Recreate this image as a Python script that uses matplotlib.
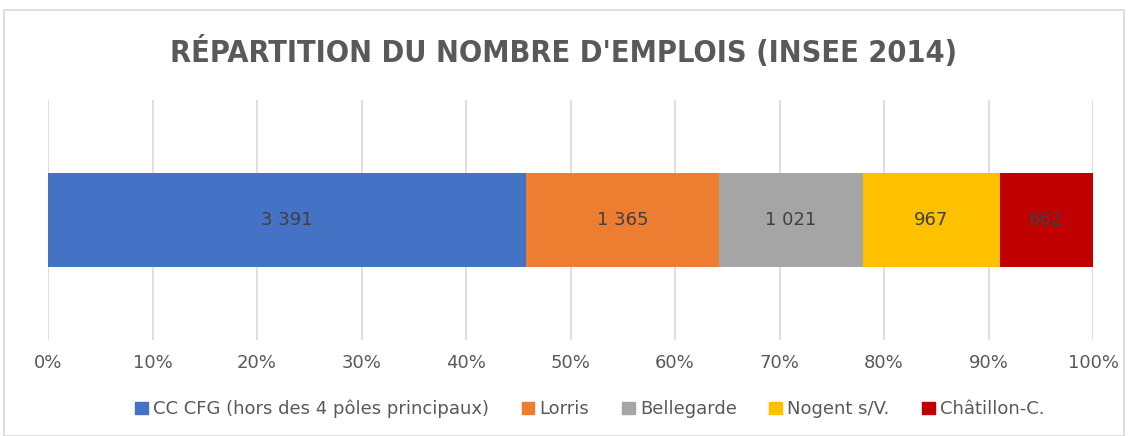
import matplotlib
matplotlib.use('Agg')
import matplotlib.pyplot as plt
from matplotlib.patches import Rectangle, Patch
from matplotlib.ticker import PercentFormatter

categories = ['CC CFG (hors des 4 pôles principaux)', 'Lorris', 'Bellegarde',
              'Nogent s/V.', 'Châtillon-C.']
values = [3391, 1365, 1021, 967, 662]
labels = ['3 391', '1 365', '1 021', '967', '662']
colors = ['#4472C4', '#ED7D31', '#A5A5A5', '#FFC000', '#C00000']

plt.rcParams['font.family'] = ['DejaVu Sans']

fig = plt.figure(figsize=(11.28, 4.36), dpi=100)
ax = fig.add_axes([48 / 1128, 1 - 340 / 436, 1045 / 1128, 240 / 436])

# chart border
fig.patches.append(Rectangle((4 / 1128, 0), 1 - 8 / 1128, 1 - 10 / 436,
                             transform=fig.transFigure, fill=False,
                             edgecolor='#D9D9D9', linewidth=1.2))

total = sum(values)
left = 0
for cat, v, lab, c in zip(categories, values, labels, colors):
    w = v / total
    ax.barh(0, w, left=left, height=0.39, color=c, label=cat, zorder=3)
    ax.text(left + w / 2, 0, lab, ha='center', va='center',
            fontsize=13, color='#404040', zorder=4)
    left += w

ax.set_xlim(0, 1)
ax.set_ylim(-0.5, 0.5)
ax.set_xticks([i / 10 for i in range(11)])
ax.xaxis.set_major_formatter(PercentFormatter(1.0, decimals=0))
ax.set_yticks([])
ax.grid(axis='x', color='#D9D9D9', linewidth=1.2, zorder=0)
for s in ax.spines.values():
    s.set_visible(False)
ax.tick_params(axis='x', length=0, pad=10, labelsize=13, labelcolor='#595959')

fig.text(0.5, 1 - 52 / 436, "RÉPARTITION DU NOMBRE D'EMPLOIS (INSEE 2014)",
         ha='center', va='center', fontsize=22, fontweight='bold',
         fontstretch='condensed', color='#595959')

handles = [Patch(color=c) for c in colors]
fig.legend(handles, categories, loc='center', bbox_to_anchor=(0.523, 1 - 409 / 436),
           ncol=5, frameon=False, fontsize=13, handlelength=0.7, handleheight=0.7,
           handletextpad=0.3, columnspacing=1.8, labelcolor='#595959')

fig.savefig('out.png', dpi=100)
